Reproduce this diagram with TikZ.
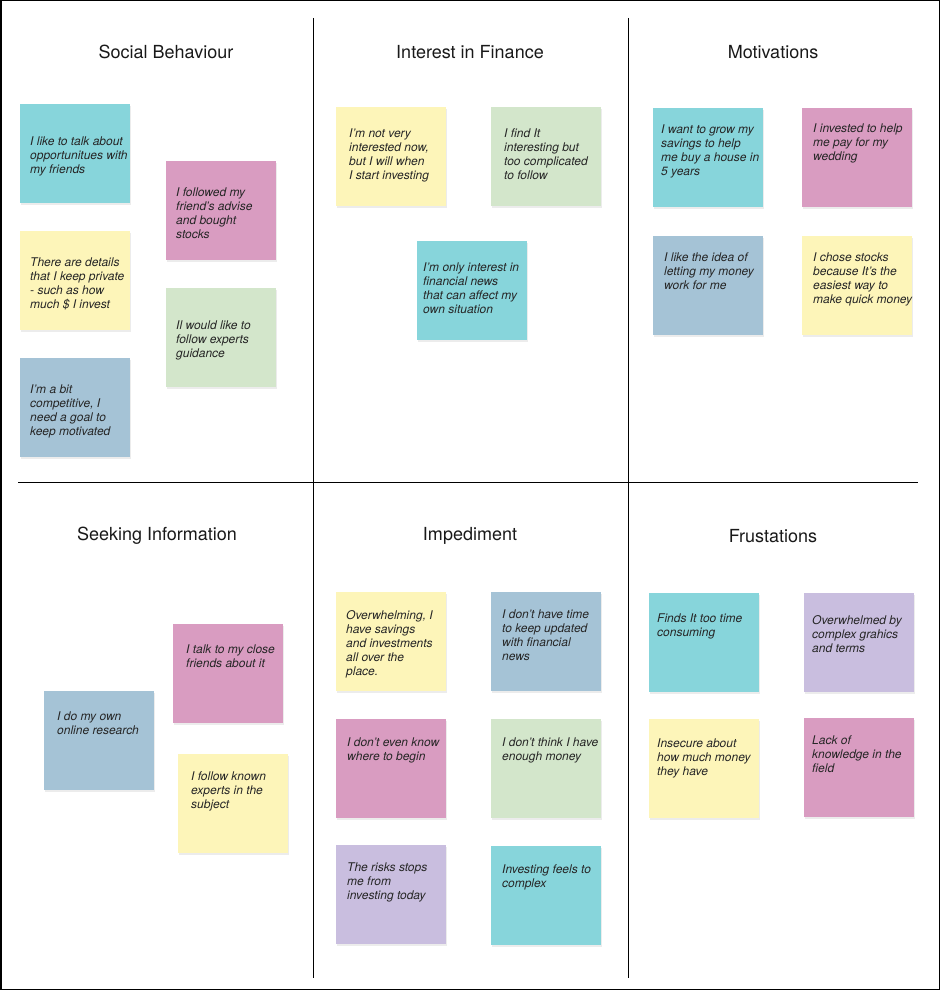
\documentclass[tikz,border=0pt]{standalone}
\usepackage{fontspec}
\setmainfont{TeX Gyre Heros}
\usepackage{xcolor}
\usetikzlibrary{shadows}
\definecolor{noteCyan}{HTML}{87D5DB}
\definecolor{notePink}{HTML}{D99CC1}
\definecolor{noteYellow}{HTML}{FDF5B9}
\definecolor{noteGreen}{HTML}{D3E6CB}
\definecolor{noteBlue}{HTML}{A5C3D6}
\definecolor{noteLilac}{HTML}{C9BEDF}
% text of a sticky note: left indent, top gap, lines
\newcommand{\notebody}[3]{\parbox[c][99pt][t]{110pt}{\raggedright\leftskip=#1pt\relax\vspace*{#2pt}#3}}

\begin{document}
\begin{tikzpicture}[x=1pt, y=-1pt,
  sticky/.style={rectangle, inner sep=0pt, anchor=north west, fill=#1, text=black!85,
                 font=\fontsize{12}{14}\selectfont\itshape,
                 drop shadow={shadow xshift=1pt, shadow yshift=-2pt, opacity=0.15}},
  heading/.style={font=\fontsize{18}{21}\selectfont, text=black!90},
  divider/.style={line width=1pt}
]
  \useasboundingbox (0,0) rectangle (940,990);
  \draw[line width=1.5pt] (0.75,0.75) rectangle (939.25,989.25);

  % Board grid
  \draw[divider] (313,18) -- (313,978);
  \draw[divider] (628,18) -- (628,978);
  \draw[divider] (18,482) -- (918,482);

  % Headings
  \node[heading] (hSocial) at (166,52) {Social Behaviour};
  \node[heading] (hInterest) at (470,52) {Interest in Finance};
  \node[heading] (hMotiv) at (773,52) {Motivations};
  \node[heading] (hSeeking) at (157,536) {Seeking Information};
  \node[heading] (hImped) at (470,536) {Impediment};
  \node[heading] (hFrust) at (773,536) {Frustations};

  % Social Behaviour
  \node[sticky=noteCyan] (sb1) at (20,104)
    {\notebody{10}{33}{I like to talk about\\opportunitues with\\my friends}};
  \node[sticky=notePink] (sb2) at (166,161)
    {\notebody{10}{27}{I followed my\\friend's advise\\and bought\\stocks}};
  \node[sticky=noteYellow] (sb3) at (20,231)
    {\notebody{10}{27}{There are details\\that I keep private\\- such as how\\much \$ I invest}};
  \node[sticky=noteGreen] (sb4) at (166,288)
    {\notebody{10}{33}{Il would like to\\follow experts\\guidance}};
  \node[sticky=noteBlue] (sb5) at (20,358)
    {\notebody{10}{27}{I'm a bit\\competitive, I\\need a goal to\\keep motivated}};

  % Interest in Finance
  \node[sticky=noteYellow] (if1) at (336,107)
    {\notebody{13}{22}{I'm not very\\interested now,\\but I will when\\I start investing}};
  \node[sticky=noteGreen] (if2) at (491,107)
    {\notebody{13}{22}{I find It\\interesting but\\too complicated\\to follow}};
  \node[sticky=noteCyan] (if3) at (417,241)
    {\notebody{6}{22}{I'm only interest in\\financial news\\that can affect my\\own situation}};

  % Motivations
  \node[sticky=noteCyan] (mo1) at (653,108)
    {\notebody{8}{17}{I want to grow my\\savings to help\\me buy a house in\\5 years}};
  \node[sticky=notePink] (mo2) at (802,108)
    {\notebody{11}{16}{I invested to help\\me pay for my\\wedding}};
  \node[sticky=noteBlue] (mo3) at (653,236)
    {\notebody{11}{17}{I like the idea of\\letting my money\\work for me}};
  \node[sticky=noteYellow] (mo4) at (802,236)
    {\notebody{11}{17}{I chose stocks\\because It's the\\easiest way to\\make quick money}};

  % Seeking Information
  \node[sticky=notePink] (si1) at (173,624)
    {\notebody{13}{21}{I talk to my close\\friends about it}};
  \node[sticky=noteBlue] (si2) at (44,691)
    {\notebody{13}{21}{I do my own\\online research}};
  \node[sticky=noteYellow] (si3) at (178,754)
    {\notebody{13}{18}{I follow known\\experts in the\\subject}};

  % Impediment
  \node[sticky=noteYellow] (im1) at (336,592)
    {\notebody{10}{18}{Overwhelming, I\\have savings\\and investments\\all over the\\place.}};
  \node[sticky=noteBlue] (im2) at (491,592)
    {\notebody{11}{18}{I don't have time\\to keep updated\\with financial\\news}};
  \node[sticky=notePink] (im3) at (336,719)
    {\notebody{11}{19}{I don't even know\\where to begin}};
  \node[sticky=noteGreen] (im4) at (491,719)
    {\notebody{11}{19}{I don't think I have\\enough money}};
  \node[sticky=noteLilac] (im5) at (336,845)
    {\notebody{11}{18}{The risks stops\\me from\\investing today}};
  \node[sticky=noteCyan] (im6) at (491,846)
    {\notebody{11}{19}{Investing feels to\\complex}};

  % Frustations
  \node[sticky=noteCyan] (fr1) at (649,593)
    {\notebody{8}{21}{Finds It too time\\consuming}};
  \node[sticky=noteLilac] (fr2) at (804,593)
    {\notebody{8}{22}{Overwhelmed by\\complex grahics\\and terms}};
  \node[sticky=noteYellow] (fr3) at (649,719)
    {\notebody{8}{20}{Insecure about\\how much money\\they have}};
  \node[sticky=notePink] (fr4) at (804,718)
    {\notebody{8}{18}{Lack of\\knowledge in the\\field}};
\end{tikzpicture}
\end{document}
